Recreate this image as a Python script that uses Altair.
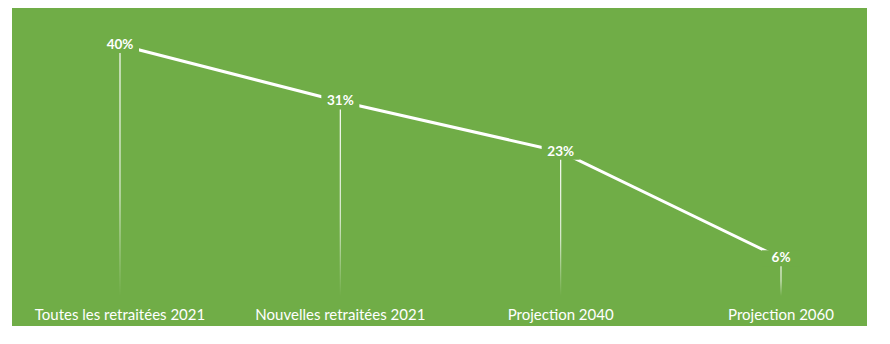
import altair as alt
import pandas as pd

categories = ["Toutes les retraitées 2021", "Nouvelles retraitées 2021", "Projection 2040", "Projection 2060"]
values = [40, 31, 23, 6]
value_labels = ["40%", "31%", "23%", "6%"]

df = pd.DataFrame({"cat": categories, "val": values, "lab": value_labels})

GREEN = "#70AD47"

x_enc = alt.X("cat:N", sort=categories, axis=None,
              scale=alt.Scale(type="point", range=[108, 769], padding=0))
y_scale = alt.Scale(domain=[0, 40], range=[288, 37])
y_enc = alt.Y("val:Q", axis=None, scale=y_scale)

grad = alt.LinearGradient(
    gradient="linear", x1=0, y1=0, x2=0, y2=1,
    stops=[alt.GradientStop(offset=0, color="rgba(255,255,255,1)"),
           alt.GradientStop(offset=0.6, color="rgba(255,255,255,0.75)"),
           alt.GradientStop(offset=1, color="rgba(255,255,255,0)")])

base = alt.Chart(df)

drops = base.mark_bar(size=1.2, color=grad).encode(x=x_enc, y=y_enc)

line = base.mark_line(color="white", strokeWidth=3).encode(x=x_enc, y=y_enc)

boxes = base.mark_point(
    shape="M-1,-0.42L1,-0.42L1,0.42L-1,0.42Z", size=1444, filled=True,
    color=GREEN, opacity=1, strokeWidth=0
).encode(x=x_enc, y=y_enc)

vlabels = base.mark_text(
    color="white", font="Lato", fontWeight="bold", fontSize=13.5, baseline="middle"
).encode(x=x_enc, y=y_enc, text="lab:N")

clabels = base.mark_text(
    color="white", font="Lato", fontSize=15, baseline="middle"
).encode(x=x_enc, y=alt.value(307), text="cat:N")

chart = alt.layer(drops, line, boxes, vlabels, clabels).properties(
    width=855, height=318,
    autosize=alt.AutoSizeParams(type="none"),
    padding={"left": 12, "top": 8, "right": 23, "bottom": 18},
    background="white",
).configure_view(fill=GREEN, stroke=None)

chart.save("out.html", embed_options={"renderer": "svg", "actions": False})
